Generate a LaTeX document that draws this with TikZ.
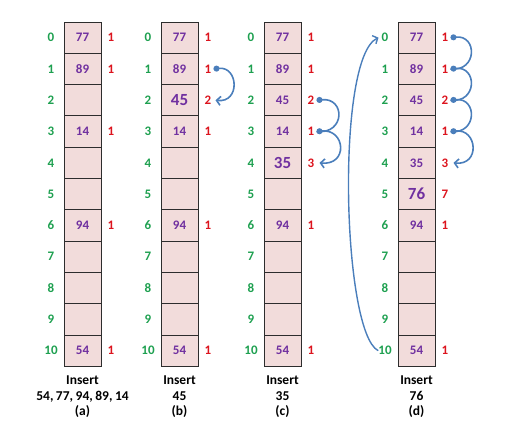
\documentclass[tikz,border=0pt]{standalone}
\usepackage{fontspec}
\setmainfont{Carlito}
\usetikzlibrary{arrows.meta}
\definecolor{idxgreen}{RGB}{30,160,80}
\definecolor{valpurple}{RGB}{112,48,160}
\definecolor{cntred}{RGB}{220,20,30}
\definecolor{cellfill}{RGB}{242,220,219}
\definecolor{cellline}{RGB}{45,45,45}
\definecolor{arrowblue}{RGB}{74,126,187}
\newcommand{\cm}{,\kern2.5pt}
\begin{document}
\begin{tikzpicture}[x=1pt,y=-1pt,
  cell/.style={draw=cellline,fill=cellfill,line width=1pt,minimum width=37pt,minimum height=31.3pt,inner sep=0pt},
  idx/.style={text=idxgreen,font=\fontsize{13}{13}\selectfont\bfseries,inner sep=1pt},
  val/.style={text=valpurple,font=\fontsize{13}{13}\selectfont\bfseries,inner sep=1pt},
  bigval/.style={text=valpurple,font=\fontsize{17}{17}\selectfont\bfseries,inner sep=1pt},
  cnt/.style={text=cntred,font=\fontsize{13}{13}\selectfont\bfseries,inner sep=1pt},
  lab/.style={align=center,font=\fontsize{13.5}{15.5}\selectfont\bfseries,inner sep=0pt},
  conn/.style={draw=arrowblue,line width=1.6pt,{Circle[length=6pt]}-},
  connlast/.style={draw=arrowblue,line width=1.6pt,{Circle[length=6pt]}-{Straight Barb[length=4pt,width=9pt]}},
  bigarrow/.style={draw=arrowblue,line width=1.4pt,-{Straight Barb[length=4pt,width=9pt]}}]
\useasboundingbox (0,0) rectangle (510,437);
\foreach \c/\x in {a/64,b/161,c/264,d/398}{
  \foreach \i in {0,...,10}{
    \node[cell] (\c\i) at (\x+18.5,37.65+31.3*\i) {};
    \node[idx] (\c i\i) at (\x-13,37.65+31.3*\i) {\i};
  }
}
% values
\foreach \c/\i/\v in {a/0/77,a/1/89,a/3/14,a/6/94,a/10/54,
  b/0/77,b/1/89,b/3/14,b/6/94,b/10/54,
  c/0/77,c/1/89,c/2/45,c/3/14,c/6/94,c/10/54,
  d/0/77,d/1/89,d/2/45,d/3/14,d/4/35,d/6/94,d/10/54}{
  \node[val] (v\c\i) at (\c\i) {\v};
}
\node[bigval] (vb2) at (b2) {45};
\node[bigval] (vc4) at (c4) {35};
\node[bigval] (vd5) at (d5) {76};
% counts
\foreach \c/\i/\n in {a/0/1,a/1/1,a/3/1,a/6/1,a/10/1,
  b/0/1,b/1/1,b/2/2,b/3/1,b/6/1,b/10/1,
  c/0/1,c/1/1,c/2/2,c/3/1,c/4/3,c/6/1,c/10/1,
  d/0/1,d/1/1,d/2/2,d/3/1,d/4/3,d/5/7,d/6/1,d/10/1}{
  \node[cnt] (n\c\i) at ([xshift=28.5pt]\c\i.center) {\n};
}
% captions
\node[lab] (ta) at ([yshift=-30pt]a10.south) {Insert\\54\cm 77\cm 94\cm 89\cm 14\\(a)};
\node[lab] (tb) at ([yshift=-30pt]b10.south) {Insert\\45\\(b)};
\node[lab] (tc) at ([yshift=-30pt]c10.south) {Insert\\35\\(c)};
\node[lab] (td) at ([yshift=-30pt]d10.south) {Insert\\76\\(d)};
% arrows (b)
\draw[connlast] ([xshift=1pt]nb1.east) .. controls +(25,-3) and +(25,3) .. ([xshift=3pt]nb2.east);
% arrows (c)
\draw[conn] ([xshift=1pt]nc2.east) .. controls +(29,-3) and +(29,3) .. ([xshift=1pt]nc3.east);
\draw[connlast] ([xshift=1pt]nc3.east) .. controls +(29,-3) and +(29,3) .. ([xshift=4pt]nc4.east);
% arrows (d)
\draw[conn] ([xshift=1pt]nd0.east) .. controls +(27,-3) and +(27,3) .. ([xshift=1pt]nd1.east);
\draw[conn] ([xshift=1pt]nd1.east) .. controls +(27,-3) and +(27,3) .. ([xshift=1pt]nd2.east);
\draw[conn] ([xshift=1pt]nd2.east) .. controls +(27,-3) and +(27,3) .. ([xshift=1pt]nd3.east);
\draw[connlast] ([xshift=1pt]nd3.east) .. controls +(27,-3) and +(27,3) .. ([xshift=4pt]nd4.east);
% wrap-around arrow
\draw[bigarrow] ([xshift=1pt]di10.west) .. controls +(-36,-18) and +(-43,20) .. ([xshift=-2pt]di0.west);
\end{tikzpicture}
\end{document}
